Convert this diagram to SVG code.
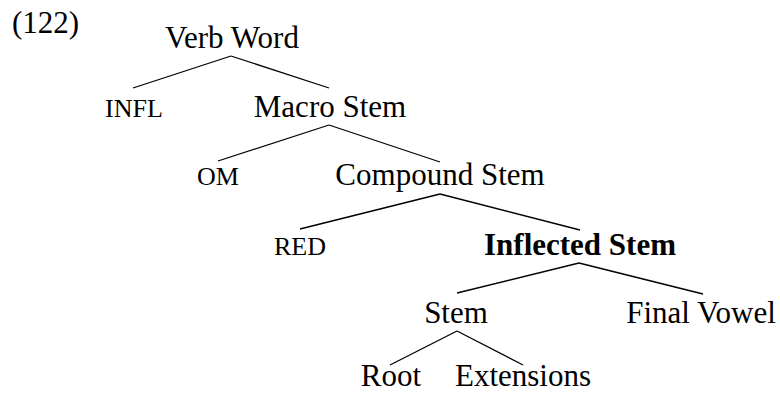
<svg xmlns="http://www.w3.org/2000/svg" width="780" height="394" viewBox="0 0 780 394">
<style>
text{font-family:"Liberation Serif","Times New Roman",serif;fill:#000;text-anchor:middle}
.n{font-size:31px}
.sc{font-size:26px}
.b{font-weight:bold}
.e line{stroke:#000;stroke-width:1.3}
</style>
<rect width="780" height="394" fill="#fff"/>
<text x="12" y="33" class="n" style="text-anchor:start">(122)</text>
<g id="verbword"><text x="232" y="48" class="n">Verb Word</text></g>
<g id="infl"><text x="134" y="117" class="sc">INFL</text></g>
<g id="macrostem"><text x="330" y="117" class="n">Macro Stem</text></g>
<g id="om"><text x="218" y="185" class="sc">OM</text></g>
<g id="compoundstem"><text x="440" y="185" class="n">Compound Stem</text></g>
<g id="red"><text x="300" y="255" class="sc">RED</text></g>
<g id="inflectedstem"><text x="580" y="255" class="n b">Inflected Stem</text></g>
<g id="stem"><text x="456" y="323" class="n">Stem</text></g>
<g id="finalvowel"><text x="701" y="323" class="n">Final Vowel</text></g>
<g id="root"><text x="391" y="386" class="n">Root</text></g>
<g id="extensions"><text x="523" y="386" class="n">Extensions</text></g>
<g id="edges" class="e">
<line x1="231" y1="56" x2="133" y2="88"/>
<line x1="231" y1="56" x2="329" y2="88"/>
<line x1="329" y1="125" x2="218" y2="161"/>
<line x1="329" y1="125" x2="440" y2="162"/>
<line x1="440" y1="194" x2="300" y2="229"/>
<line x1="440" y1="194" x2="580" y2="230"/>
<line x1="579" y1="263" x2="457" y2="293"/>
<line x1="579" y1="263" x2="703" y2="294"/>
<line x1="457" y1="331" x2="390" y2="365"/>
<line x1="457" y1="331" x2="523" y2="365"/>
</g>
</svg>
